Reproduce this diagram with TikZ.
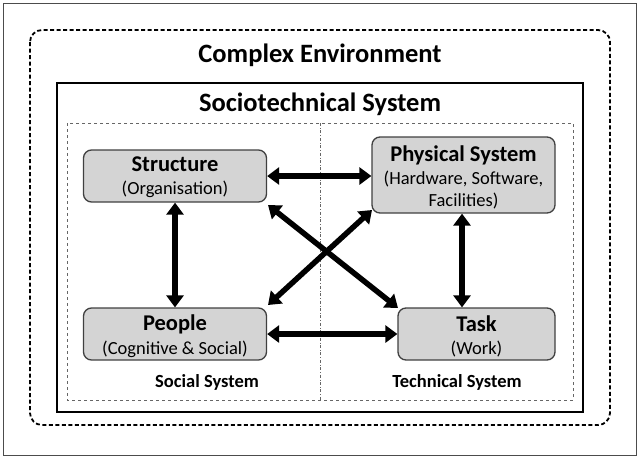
\documentclass[tikz,border=0pt]{standalone}
\usepackage{fontspec}
\setmainfont{Carlito}
\usetikzlibrary{arrows.meta}
\begin{document}
\begin{tikzpicture}[x=1pt,y=-1pt,
 box/.style={draw=black!75,line width=1.3pt,fill=black!17,rounded corners=8pt},
 dbl/.style={line width=5.5pt,{Triangle[length=12pt,width=17pt]}-{Triangle[length=12pt,width=17pt]}},
 hd/.style={font=\bfseries\fontsize{22.5}{24}\selectfont},
 sub/.style={font=\fontsize{18.5}{22}\selectfont},
 lab/.style={font=\bfseries\fontsize{18.5}{20}\selectfont}]
\useasboundingbox (0,0) rectangle (640,458);
\draw[black!70,line width=0.8pt] (3,3) rectangle (636,455);
\draw[line width=1.8pt,dash pattern=on 4pt off 2.5pt,rounded corners=12pt] (30,30) rectangle (610,425);
\node (ce) at (320,55) {\bfseries\fontsize{26.5}{28}\selectfont Complex Environment};
\draw[line width=1.2pt] (57,83) rectangle (583,412);
\node (st) at (320,104) {\bfseries\fontsize{26.5}{28}\selectfont Sociotechnical System};
\draw[black!60,dashed,line width=0.7pt] (67,123) rectangle (573,400);
\draw[black!60,dash dot,line width=0.7pt] (320,123) -- (320,400);
\node[box,minimum width=183pt,minimum height=52pt] (s) at (175,176) {};
\node[hd] at (175,164) {Structure};
\node[sub] at (175,189) {(Organisation)};
\node[box,minimum width=183pt,minimum height=76pt] (p) at (463.5,175) {};
\node[hd] at (463.5,155) {Physical System};
\node[sub,align=center] at (463.5,190) {(Hardware, Software,\\Facilities)};
\node[box,minimum width=183pt,minimum height=52pt] (pe) at (175,334) {};
\node[hd] at (175,324) {People};
\node[sub] at (175,349) {(Cognitive \& Social)};
\node[box,minimum width=157pt,minimum height=52pt] (t) at (476.5,334) {};
\node[hd] at (476.5,324) {Task};
\node[sub] at (476.5,349) {(Work)};
\draw[dbl] (s.east) -- (p.west|-s.east);
\draw[dbl] (s.south) -- (pe.north);
\draw[dbl] (p.south-|462,0) -- (t.north-|462,0);
\draw[dbl] (pe.east) -- (t.west);
\draw[dbl] (268,205) -- (398,308);
\draw[dbl] (372,210) -- (268,305);
\node[lab] (ss) at (207,382) {Social System};
\node[lab] (ts) at (457,382) {Technical System};
\end{tikzpicture}
\end{document}
